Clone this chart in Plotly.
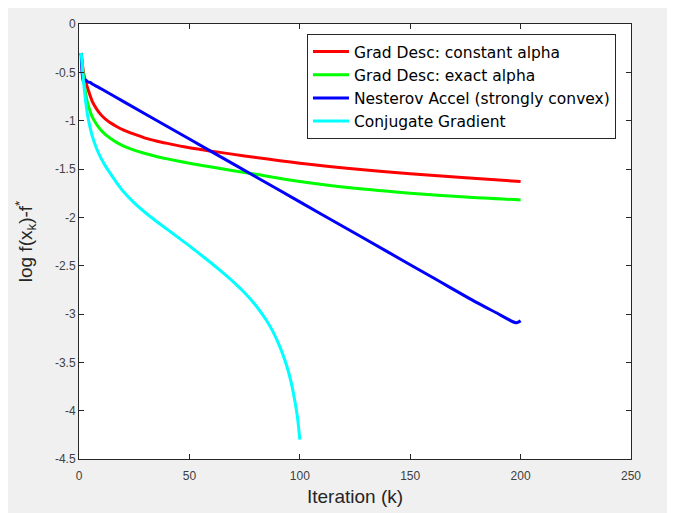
import plotly.graph_objects as go

# ---- data ----
red_x = [1, 2, 3, 4, 6, 8, 10, 12, 14, 17, 20, 25, 30, 35, 40, 50, 60, 75, 100, 125, 150, 175, 200]
red_y = [-0.30, -0.50, -0.60, -0.67, -0.80, -0.88, -0.94, -0.985, -1.02, -1.06, -1.095, -1.14, -1.18,
         -1.21, -1.235, -1.28, -1.315, -1.365, -1.44, -1.50, -1.55, -1.59, -1.63]

green_x = [1, 2, 3, 4, 5, 6, 8, 10, 12, 14, 17, 20, 25, 30, 35, 40, 50, 60, 80, 100, 125, 150, 175, 200]
green_y = [-0.30, -0.55, -0.72, -0.83, -0.90, -0.96, -1.04, -1.10, -1.145, -1.18, -1.225, -1.26, -1.305,
           -1.34, -1.37, -1.395, -1.44, -1.48, -1.555, -1.63, -1.70, -1.75, -1.79, -1.82]

blue_x = [1, 2, 3, 4, 5, 6, 8, 10, 20, 40, 60, 80, 100, 120, 140, 160, 180, 190, 194, 196, 198, 199, 200]
blue_y = [-0.30, -0.60, -0.58, -0.60, -0.605, -0.62, -0.645, -0.67, -0.80, -1.06, -1.32, -1.58, -1.84,
          -2.10, -2.36, -2.62, -2.88, -3.00, -3.05, -3.075, -3.09, -3.085, -3.07]

cyan_x = [1, 2, 3, 4, 5, 6, 8, 10, 12, 14, 17, 20, 25, 30, 35, 40, 45, 50, 55, 60, 65, 70, 75, 80, 85,
          88, 91, 94, 96, 98, 99, 100]
cyan_y = [-0.30, -0.58, -0.80, -0.96, -1.07, -1.16, -1.29, -1.39, -1.47, -1.54, -1.64, -1.73, -1.85,
          -1.95, -2.04, -2.125, -2.21, -2.295, -2.385, -2.475, -2.57, -2.67, -2.78, -2.91, -3.07, -3.19,
          -3.34, -3.53, -3.70, -3.93, -4.08, -4.30]

series_names = ["Grad Desc: constant alpha", "Grad Desc: exact alpha",
                "Nesterov Accel (strongly convex)", "Conjugate Gradient"]

x_tickvals = [0, 50, 100, 150, 200, 250]
x_ticktext = ["0", "50", "100", "150", "200", "250"]
y_tickvals = [0, -0.5, -1, -1.5, -2, -2.5, -3, -3.5, -4, -4.5]
y_ticktext = ["0", "-0.5", "-1", "-1.5", "-2", "-2.5", "-3", "-3.5", "-4", "-4.5"]

# ---- figure ----
colors = ["#ff0000", "#00ff00", "#0000ff", "#00ffff"]
xs = [red_x, green_x, blue_x, cyan_x]
ys = [red_y, green_y, blue_y, cyan_y]

fig = go.Figure()
for name, c, x, y in zip(series_names, colors, xs, ys):
    fig.add_trace(go.Scatter(x=x, y=y, mode="lines", name=name,
                             line=dict(color=c, width=3, shape="spline", smoothing=0.8)))

axis_col = "#262626"
fam = "Liberation Sans, Arial, sans-serif"
tick_font = dict(family=fam, size=12, color="#404040")

fig.update_layout(
    width=667, height=505,
    margin=dict(l=71, r=44, t=16, b=54),
    paper_bgcolor="#f0f0f0",
    plot_bgcolor="#ffffff",
    font=dict(family=fam),
    showlegend=True,
    legend=dict(
        x=0.413, y=0.977, xanchor="left", yanchor="top",
        bgcolor="#ffffff", bordercolor="#262626", borderwidth=1,
        font=dict(family="DejaVu Sans, Liberation Sans, sans-serif", size=15.5, color="#000000"),
        itemwidth=36, tracegroupgap=0,
    ),
    xaxis=dict(
        range=[0, 250], tickvals=x_tickvals, ticktext=x_ticktext,
        ticks="inside", ticklen=5, tickcolor=axis_col, tickwidth=1,
        showline=True, linecolor=axis_col, linewidth=1, mirror="ticks",
        showgrid=False, zeroline=False, tickfont=tick_font, ticklabelstandoff=6,
        title=dict(text="Iteration (k)", font=dict(size=19, color="#262626"), standoff=7),
        automargin=False,
    ),
    yaxis=dict(
        range=[-4.5, 0], tickvals=y_tickvals, ticktext=y_ticktext,
        ticks="inside", ticklen=5, tickcolor=axis_col, tickwidth=1,
        showline=True, linecolor=axis_col, linewidth=1, mirror="ticks",
        showgrid=False, zeroline=False, tickfont=tick_font,
        title=dict(text="log f(x<sub>k</sub>)-f<sup>*</sup>", font=dict(size=19, color="#262626"), standoff=17),
        automargin=False,
    ),
)

fig.write_html("out.html")
